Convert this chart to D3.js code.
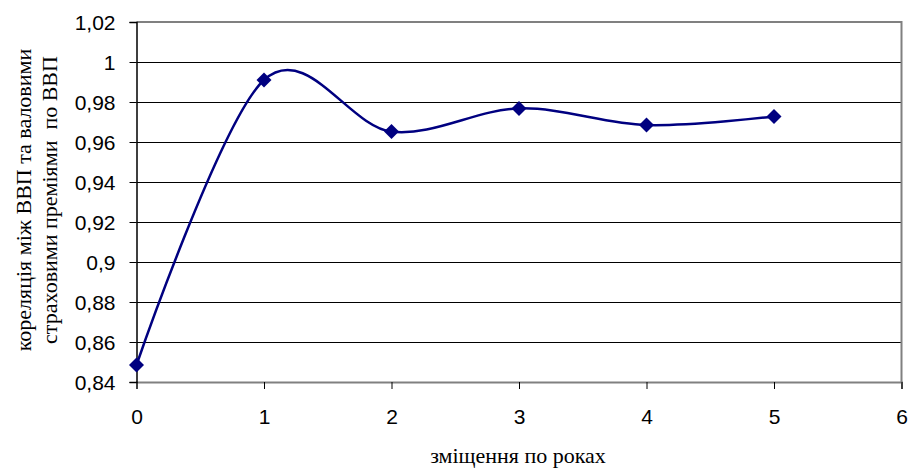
<!DOCTYPE html>
<html>
<head>
<meta charset="utf-8">
<script src="https://cdn.jsdelivr.net/npm/d3@7"></script>
<style>
  body { margin: 0; background: #fff; }
  .tick text { font-family: "Liberation Sans", Arial, sans-serif; font-size: 21px; fill: #000; }
  .title { font-family: "Liberation Serif", "Times New Roman", serif; font-size: 22px; fill: #000; white-space: pre; }
</style>
</head>
<body>
<svg id="chart" width="910" height="468"></svg>
<script>
// lag in years and correlation values
var lags  = [0, 1, 2, 3, 4, 5];
var corr  = [0.8485, 0.991, 0.9652, 0.9768, 0.9685, 0.9728];
var x_ticks = [0, 1, 2, 3, 4, 5, 6];
var y_ticks = [0.84, 0.86, 0.88, 0.9, 0.92, 0.94, 0.96, 0.98, 1, 1.02];
var y_title = ['кореляція між ВВП та валовими', 'страховими преміями  по ВВП'];
var x_title = 'зміщення по роках';

var svg = d3.select('#chart');

var m_left = 136.5, m_right = 901.5, m_top = 22, m_bottom = 382;

var x = d3.scaleLinear().domain([0, 6]).range([m_left, m_right]);
var y = d3.scaleLinear().domain([0.84, 1.02]).range([m_bottom, m_top]);

var fmt = (d) => d3.format('.2~f')(d).replace('.', ',');

// grid lines
svg.append('g')
  .selectAll('line')
  .data(y_ticks.slice(1, -1))
  .enter().append('line')
  .attr('x1', m_left).attr('x2', m_right)
  .attr('y1', (d) => Math.round(y(d)) + 0.5)
  .attr('y2', (d) => Math.round(y(d)) + 0.5)
  .style('stroke', '#000')
  .style('stroke-width', 1.2);

// frame top / right
svg.append('path')
  .attr('d', `M${m_left},${m_top} H${m_right} V${m_bottom}`)
  .style('fill', 'none')
  .style('stroke', '#808080')
  .style('stroke-width', 2);

var x_axis = svg.append('g')
  .attr('transform', `translate(0,${m_bottom})`)
  .call(d3.axisBottom(x).tickValues(x_ticks).tickSize(7).tickPadding(20).tickFormat(fmt));
x_axis.select('.domain').style('stroke', '#808080').style('stroke-width', 2);
x_axis.selectAll('.tick line').style('stroke', '#000');

var y_axis = svg.append('g')
  .attr('transform', `translate(${m_left},0)`)
  .call(d3.axisLeft(y).tickValues(y_ticks).tickSize(7).tickPadding(14).tickFormat(fmt));
y_axis.select('.domain').style('stroke', '#000').style('stroke-width', 1.5);
y_axis.selectAll('.tick line').style('stroke', '#000');
y_axis.selectAll('.tick text').attr('dy', '0.38em');

// smoothed line
var pts = lags.map((d, i) => [x(d), y(corr[i])]);

svg.append('path')
  .datum(pts)
  .attr('d', d3.line().curve(d3.curveCardinal.tension(0)))
  .style('fill', 'none')
  .style('stroke', '#000080')
  .style('stroke-width', 2.5);

svg.append('g')
  .selectAll('path')
  .data(pts)
  .enter().append('path')
  .attr('transform', (d) => `translate(${d[0]},${d[1]})`)
  .attr('d', 'M0,-7.5L7.5,0L0,7.5L-7.5,0Z')
  .style('fill', '#000080');

// axis titles
svg.append('text')
  .attr('class', 'title')
  .attr('x', 518).attr('y', 463)
  .attr('text-anchor', 'middle')
  .text(x_title);

svg.append('g')
  .selectAll('text')
  .data(y_title)
  .enter().append('text')
  .attr('class', 'title')
  .attr('text-anchor', 'middle')
  .attr('transform', (d, i) => `translate(${i ? 57 : 31},200) rotate(-90)`)
  .text((d) => d);
</script>
</body>
</html>
